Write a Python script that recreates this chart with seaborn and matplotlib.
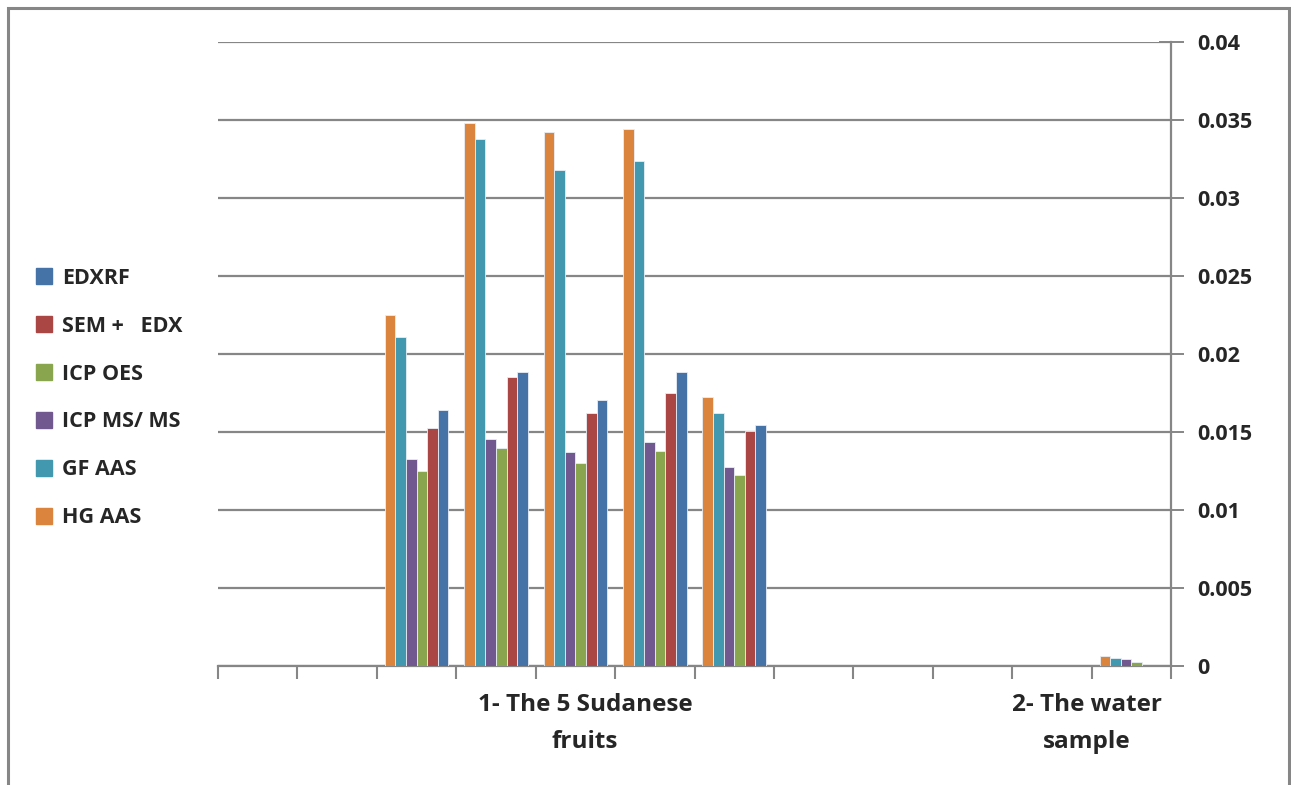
import numpy as np
import pandas as pd
import seaborn as sns
import matplotlib.pyplot as plt
from matplotlib.patches import Rectangle
from matplotlib.lines import Line2D

# 12 category slots on the x axis, only some of them carry bars
slots = ["s%d" % i for i in range(1, 13)]
data_slots = ["s3", "s4", "s5", "s6", "s7", "s12"]

methods = ["HG AAS", "GF AAS", "ICP MS/ MS", "ICP OES", "SEM +   EDX", "EDXRF"]
hg_aas = [0.0225, 0.0348, 0.0342, 0.0344, 0.01724, 0.00065]
gf_aas = [0.0211, 0.0338, 0.0318, 0.0324, 0.0162, 0.0005]
icp_ms = [0.0133, 0.01455, 0.0137, 0.01436, 0.01276, 0.00047]
icp_oes = [0.0125, 0.0140, 0.0130, 0.0138, 0.01224, 0.00025]
sem_edx = [0.01526, 0.0185, 0.0162, 0.0175, 0.01506, 0.0]
edxrf = [0.0164, 0.01885, 0.01705, 0.01885, 0.01545, 0.0]

group_labels = ["1- The 5 Sudanese\nfruits", "2- The water\nsample"]
yticks = [0, 0.005, 0.01, 0.015, 0.02, 0.025, 0.03, 0.035, 0.04]
ytick_labels = ["0", "0.005", "0.01", "0.015", "0.02", "0.025", "0.03", "0.035", "0.04"]

colors = ["#DB843D", "#4198AF", "#71588F", "#89A54E", "#AA4643", "#4572A7"]

rows = []
for m, vals in zip(methods, [hg_aas, gf_aas, icp_ms, icp_oes, sem_edx, edxrf]):
    for s, v in zip(data_slots, vals):
        rows.append({"slot": s, "method": m, "value": v})
df = pd.DataFrame(rows)

sns.set_style("white")
plt.rcParams['font.family'] = ['Open Sans', 'DejaVu Sans']
plt.rcParams['font.weight'] = 'bold'

fig = plt.figure(figsize=(12.91, 7.85), dpi=100)
ax = fig.add_axes([218 / 1291, 1 - 666 / 785, (1171 - 218) / 1291, (666 - 42) / 785])

sns.barplot(data=df, x="slot", y="value", hue="method", order=slots,
            hue_order=methods, palette=colors, saturation=1, width=0.8, ax=ax,
            edgecolor="#e8eef5", linewidth=0.6, legend=False, zorder=3)

ax.set_xlim(-0.5, 11.5)
ax.set_ylim(0, 0.04)
ax.set_xlabel("")
ax.set_ylabel("")

# right y axis
ax.yaxis.tick_right()
ax.set_yticks(yticks)
ax.set_yticklabels(ytick_labels, fontsize=15.5, fontweight="bold")
ax.tick_params(axis="y", right=True, left=False, direction="inout", length=18,
               width=1.4, color="#868686", pad=10)
ax.grid(axis="y", color="#868686", linewidth=1.6, zorder=0)

# x ticks at slot boundaries
ax.set_xticks(np.arange(-0.5, 12, 1))
ax.set_xticklabels([])
ax.tick_params(axis="x", bottom=True, direction="out", length=9, width=1.5,
               color="#868686")

for side in ["top", "left"]:
    ax.spines[side].set_visible(False)
ax.spines["bottom"].set_color("#868686")
ax.spines["bottom"].set_linewidth(1.6)
ax.spines["right"].set_color("#868686")
ax.spines["right"].set_linewidth(1.6)

# group labels below the axis
for xpos, lab in zip([4.12, 10.44], group_labels):
    ax.text(xpos, -0.0017, lab, ha="center", va="top", fontsize=17.5,
            fontweight="bold", linespacing=1.75, transform=ax.transData)

# legend on the left, listed in reverse order
handles = [Line2D([0], [0], marker="s", linestyle="none", markersize=11,
                  markerfacecolor=c, markeredgecolor=c) for c in colors[::-1]]
leg = fig.legend(handles, methods[::-1], loc="center left",
                 bbox_to_anchor=(14 / 1291, 1 - 398 / 785), frameon=False,
                 fontsize=15.5, labelspacing=1.25, handletextpad=0.35,
                 handlelength=1.0)
for t in leg.get_texts():
    t.set_fontweight("bold")

# outer chart frame
fig.patches.append(Rectangle((8 / 1291, -0.05), (1289 - 8) / 1291, 1.05 - 8 / 785,
                             transform=fig.transFigure, fill=False,
                             edgecolor="#868686", linewidth=2.2))

fig.savefig("out.png", dpi=100)
